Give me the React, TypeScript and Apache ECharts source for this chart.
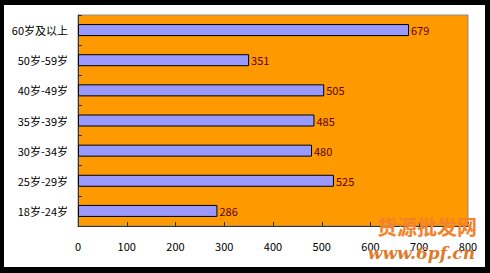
import React, { useEffect, useRef } from "react";
import * as echarts from "echarts";

const categories = ["18岁-24岁", "25岁-29岁", "30岁-34岁", "35岁-39岁", "40岁-49岁", "50岁-59岁", "60岁及以上"];
const values = [286, 525, 480, 485, 505, 351, 679];
const xTicks = [0, 100, 200, 300, 400, 500, 600, 700, 800];

export default function App() {
  const ref = useRef<HTMLDivElement>(null);
  useEffect(() => {
    if (!ref.current) return;
    const chart = echarts.init(ref.current, null, { renderer: "svg" });
    const font = '"Noto Sans CJK SC", "DejaVu Sans", sans-serif';
    chart.setOption({
      animation: false,
      backgroundColor: "#ffffff",
      grid: { left: 74, right: 17, top: 10, bottom: 41, show: true, backgroundColor: "#ff9900", borderColor: "#8c8c8c", borderWidth: 1 },
      xAxis: {
        type: "value",
        min: 0,
        max: 800,
        interval: 100,
        splitLine: { show: false },
        axisLine: { show: true, lineStyle: { color: "#333333" } },
        axisTick: { show: true, inside: true, length: 4, lineStyle: { color: "#333333" } },
        axisLabel: {
          color: "#000000",
          fontFamily: font,
          fontSize: 11,
          margin: 14,
          formatter: (v: number) => (xTicks.includes(v) ? String(v) : ""),
        },
      },
      yAxis: {
        type: "category",
        data: categories,
        axisLine: { show: true, lineStyle: { color: "#333333" } },
        axisTick: { show: true, inside: true, length: 4, lineStyle: { color: "#333333" } },
        axisLabel: { color: "#000000", fontFamily: font, fontSize: 11, margin: 10 },
      },
      series: [
        {
          type: "bar",
          data: values,
          barWidth: 12,
          itemStyle: { color: "#9999ff", borderColor: "#000000", borderWidth: 1 },
          label: {
            show: true,
            position: "right",
            distance: 2,
            color: "#5c0000",
            fontFamily: font,
            fontSize: 11,
          },
        },
      ],
      graphic: [
        {
          type: "text",
          right: 8,
          bottom: 31,
          style: { text: "货源批发网", fill: "#f5812a", font: 'bold 20px "Noto Sans CJK SC"' },
          z: 100,
        },
        {
          type: "text",
          right: 10,
          bottom: 6,
          style: { text: "www.6pf.cn", fill: "#e07a2a", font: 'italic bold 17px "DejaVu Serif"' },
          z: 100,
        },
      ],
    });
    return () => chart.dispose();
  }, []);
  return (
    <div style={{ position: "fixed", left: 0, top: 0, width: 490, height: 273, background: "#000" }}>
      <div ref={ref} style={{ position: "absolute", left: 4, top: 5, width: 481, height: 262 }} />
    </div>
  );
}
